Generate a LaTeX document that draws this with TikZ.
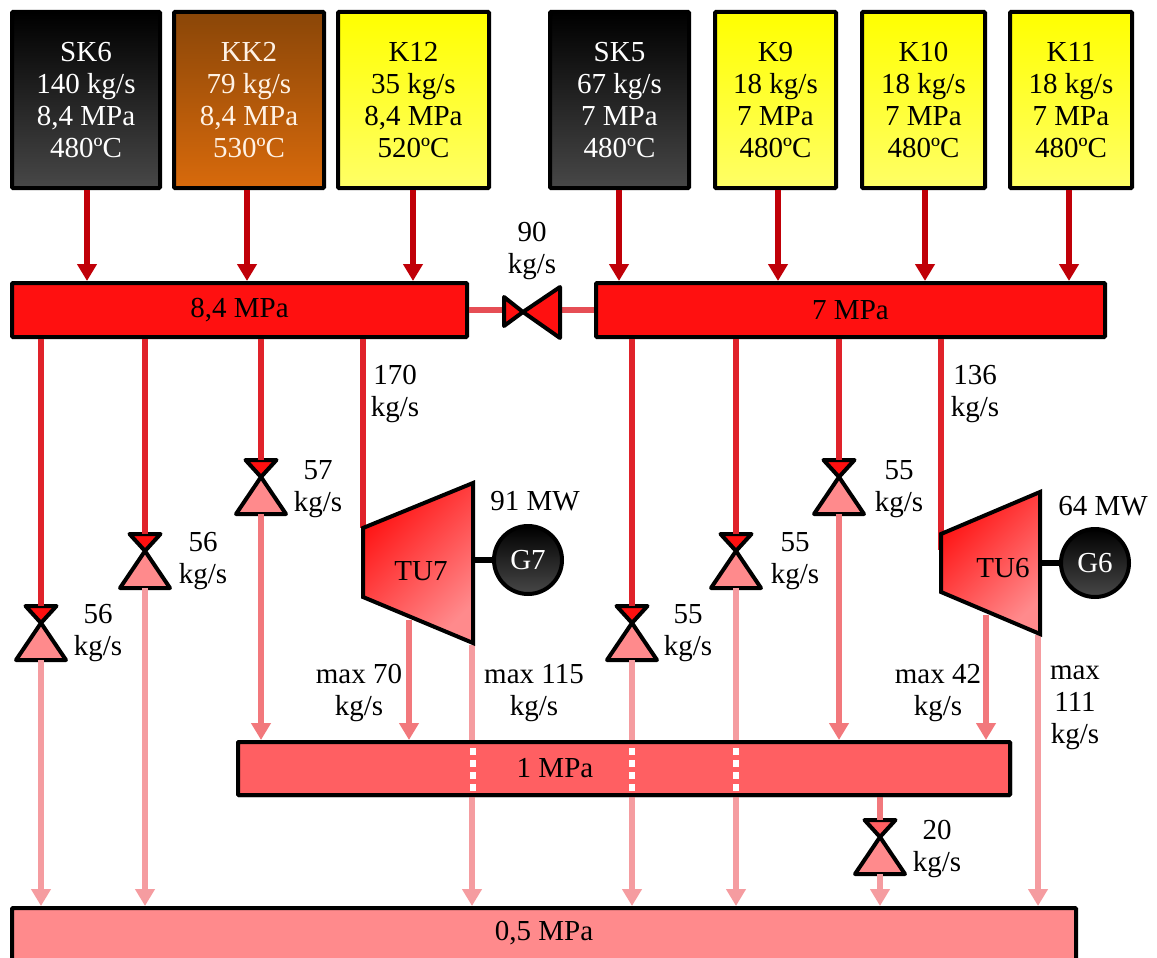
\documentclass[tikz,border=0pt]{standalone}
\usepackage{fontspec}
\setmainfont{Liberation Serif}
\usetikzlibrary{arrows.meta}
\definecolor{feedred}{HTML}{C00008}
\definecolor{busred}{HTML}{FF1010}
\definecolor{busmid}{HTML}{FF5F62}
\definecolor{buslow}{HTML}{FF8A8C}
\definecolor{pipered}{HTML}{E0222A}
\definecolor{pipemid}{HTML}{F2787C}
\definecolor{pipelow}{HTML}{F59CA0}
\definecolor{kktop}{HTML}{8A4608}
\definecolor{kkbot}{HTML}{D86A0C}
\tikzset{
  lbl/.style={font=\fontsize{29}{32}\selectfont, align=center, inner sep=0pt},
  unit/.style={lbl, draw=black, line width=4pt, rounded corners=1pt, minimum height=176pt},
  bus/.style={lbl, draw=black, line width=4pt, rounded corners=1pt, minimum height=54pt},
  feed/.style={feedred, line width=6pt, -{Triangle[length=17pt,width=19pt]}},
  pipe/.style={pipered, line width=6pt},
  pipedown/.style={pipelow, line width=6pt, -{Triangle[length=17pt,width=19pt]}},
  gen/.style={lbl, circle, draw=black, line width=4pt, top color=black, bottom color=black!72, text=white, minimum size=68pt},
  turb/.style={draw=black, line width=4pt, line join=miter, left color=busred, right color=buslow, shading angle=45},
  valveline/.style={draw=black, line width=4pt, line join=round},
}
\newcommand{\valve}[5]{% name, x, top y, upper colour, lower colour
  \draw[valveline, fill=#4] (#2-15.5,#3) -- (#2+15.5,#3) -- (#2,#3+17) -- cycle;
  \draw[valveline, fill=#5] (#2,#3+17) -- (#2+25,#3+54) -- (#2-25,#3+54) -- cycle;
  \coordinate (#1in) at (#2,#3);
  \coordinate (#1out) at (#2,#3+54);
}
\begin{document}
\begin{tikzpicture}[x=1pt,y=-1pt]
\useasboundingbox (0,0) rectangle (1157,958);
% boilers
\node[unit, text=white, top color=black, bottom color=black!72, minimum width=148pt] (sk6) at (86,100) {SK6\\140 kg/s\\8,4 MPa\\480ºC};
\node[unit, text=white!90!orange, top color=kktop, bottom color=kkbot, minimum width=150pt] (kk2) at (249,100) {KK2\\79 kg/s\\8,4 MPa\\530ºC};
\node[unit, top color=yellow, bottom color=yellow!60, minimum width=151pt] (k12) at (413.5,100) {K12\\35 kg/s\\8,4 MPa\\520ºC};
\node[unit, text=white, top color=black, bottom color=black!72, minimum width=139pt] (sk5) at (619.5,100) {SK5\\67 kg/s\\7 MPa\\480ºC};
\node[unit, top color=yellow, bottom color=yellow!60, minimum width=121pt] (k9) at (775.5,100) {K9\\18 kg/s\\7 MPa\\480ºC};
\node[unit, top color=yellow, bottom color=yellow!60, minimum width=123pt] (k10) at (923.5,100) {K10\\18 kg/s\\7 MPa\\480ºC};
\node[unit, top color=yellow, bottom color=yellow!60, minimum width=122pt] (k11) at (1071,100) {K11\\18 kg/s\\7 MPa\\480ºC};
% headers
\node[bus, fill=busred, minimum width=455pt] (hp) at (239.5,310) {8,4 MPa};
\node[bus, fill=busred, minimum width=509pt] (mp) at (850.5,310) {7 MPa};
\node[bus, fill=busmid, minimum width=772pt, minimum height=53pt] (lp) at (624,768.5) {};
\node[bus, fill=buslow, minimum width=1064pt, minimum height=60pt] (vlp) at (544,938) {};
% boiler feeds
\foreach \src/\dst/\xx in {sk6/hp/87,kk2/hp/247,k12/hp/413,sk5/mp/619,k9/mp/778,k10/mp/925,k11/mp/1069}
  \draw[feed] (\src.south -| \xx,0) -- (\dst.north -| \xx,0);
% tie valve
\coordinate (tiein) at (504,310);
\coordinate (tieout) at (560,310);
\draw[pipered!80!white, line width=6pt] (hp.east) -- (tiein) (tieout) -- (mp.west);
\draw[valveline, fill=busred] (504,297) -- (523,312) -- (504,326) -- cycle;
\draw[valveline, fill=busred] (560,287) -- (523,312) -- (560,338) -- cycle;
% valves
\valve{va}{41}{606}{busred}{buslow}
\valve{vb}{145}{534}{busred}{buslow}
\valve{vc}{261}{460}{busred}{buslow}
\valve{vd}{632}{606}{busred}{buslow}
\valve{ve}{736}{534}{busred}{buslow}
\valve{vf}{839}{460}{busred}{buslow}
\valve{vg}{880}{820}{busmid}{buslow}
% pipes into and out of the valves
\foreach \dst/\vn/\xx in {hp/va/41,hp/vb/145,hp/vc/261,mp/vd/632,mp/ve/736,mp/vf/839}
  \draw[pipe] (\dst.south -| \xx,0) -- (\vn in);
\foreach \vn in {va,vb,vd,ve}
  \draw[pipedown] (\vn out) -- (\vn out |- vlp.north);
\draw[pipedown, pipemid] (vcout) -- (vcout |- lp.north);
\draw[pipedown, pipemid] (vfout) -- (vfout |- lp.north);
\draw[pipe, pipemid] (lp.south -| vgin) -- (vgin);
\draw[pipedown] (vgout) -- (vgout |- vlp.north);
% turbines
\coordinate (tu7t) at (363,400);
\coordinate (tu6t) at (941,400);
\draw[pipe] (hp.south -| tu7t) -- (363,528);
\draw[pipe] (mp.south -| tu6t) -- (941,550);
\coordinate (tu7a) at (409,620);
\coordinate (tu7b) at (472,645);
\coordinate (tu6a) at (986,615);
\coordinate (tu6b) at (1038,635);
\draw[pipedown, pipemid] (tu7a) -- (tu7a |- lp.north);
\draw[pipedown, pipemid] (tu6a) -- (tu6a |- lp.north);
\draw[pipedown] (tu7b) -- (tu7b |- vlp.north);
\draw[pipedown] (tu6b) -- (tu6b |- vlp.north);
\draw[turb] (363,528) -- (473,483) -- (473,643) -- (363,597) -- cycle;
\draw[turb] (941,534) -- (1040,492) -- (1040,634) -- (941,592) -- cycle;
\node[lbl] (tu7) at (421,571) {TU7};
\node[lbl] (tu6) at (1003,568) {TU6};
\node[gen] (g7) at (528,560) {G7};
\node[gen] (g6) at (1095,563) {G6};
\draw[black, line width=6pt] (473,560) -- (g7);
\draw[black, line width=6pt] (1040,563) -- (g6);
% redraw the 1 MPa header over the through pipes
\node[bus, fill=busmid, minimum width=772pt, minimum height=53pt] at (624,768.5) {};
\foreach \xx in {473,632,736}
  \draw[white, line width=6pt, dash pattern=on 7pt off 5pt] (\xx,748) -- (\xx,791);
% labels
\node[lbl] (lplbl) at (555,768) {1 MPa};
\node[lbl] (vlplbl) at (544,933) {0,5 MPa};
\node[lbl] (l90) at (532,251) {90\\kg/s};
\node[lbl] (l170) at (395,394) {170\\kg/s};
\node[lbl] (l136) at (975,394) {136\\kg/s};
\node[lbl] (l57) at (318,489) {57\\kg/s};
\node[lbl] (l56b) at (203,561) {56\\kg/s};
\node[lbl] (l56a) at (98,633) {56\\kg/s};
\node[lbl] (l55d) at (688,633) {55\\kg/s};
\node[lbl] (l55e) at (795,561) {55\\kg/s};
\node[lbl] (l55f) at (899,489) {55\\kg/s};
\node[lbl] (p91) at (535,501) {91 MW};
\node[lbl] (p64) at (1103,506) {64 MW};
\node[lbl] (m70) at (359,693) {max 70\\kg/s};
\node[lbl] (m115) at (534,693) {max 115\\kg/s};
\node[lbl] (m42) at (938,693) {max 42\\kg/s};
\node[lbl] (m111) at (1075,708) {max\\111\\kg/s};
\node[lbl] (l20) at (937,849) {20\\kg/s};
\end{tikzpicture}
\end{document}
